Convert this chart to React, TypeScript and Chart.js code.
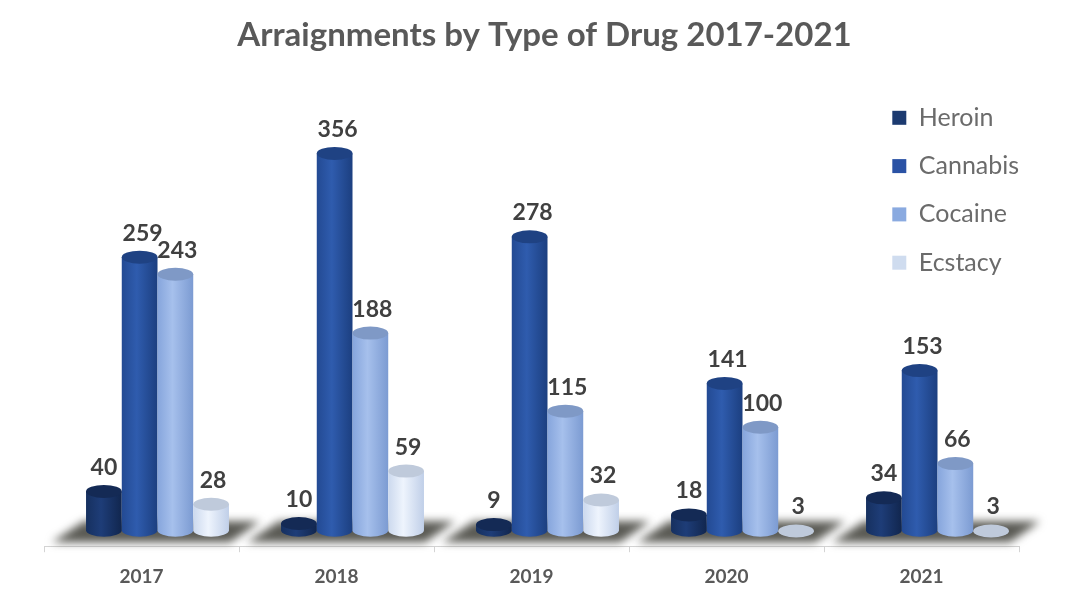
import React, { useEffect, useRef } from "react";
import { Chart, registerables } from "chart.js";

Chart.register(...registerables);

const years = ["2017", "2018", "2019", "2020", "2021"];
const heroin = [40, 10, 9, 18, 34];
const cannabis = [259, 356, 278, 141, 153];
const cocaine = [243, 188, 115, 100, 66];
const ecstasy = [28, 59, 32, 3, 3];

const seriesNames = ["Heroin", "Cannabis", "Cocaine", "Ecstacy"];
const swatchColors = ["#1c3a70", "#2a52a5", "#8aaae0", "#cfdcef"];
// Cylinder shading per series: edge, highlight, far edge, top cap.
const cylinderShades = [
  ["#16305f", "#1e3d78", "#11264e", "#142a55"],
  ["#234a93", "#2f5cae", "#1c3f80", "#1f4283"],
  ["#86a5dc", "#a6c0ec", "#7c9bd2", "#7f99c6"],
  ["#ccd9ee", "#eef4fd", "#c0cfe8", "#bfcadb"],
];

const FONT = "Lato, 'Open Sans', sans-serif";
const BAR_SHIFT = 16; // the bars sit to the right of their category, as in a 3D projection
const CAP_RY = 6.5;
const BASE_LIFT = 4; // the round foot of each cylinder stands slightly above the zero line
const LABEL_NUDGE = [0, 3, 2, 2]; // value labels lean slightly right of most bars

const floorShadow = {
  id: "floorShadow",
  beforeDatasetsDraw(chart: any) {
    const { ctx, scales } = chart;
    const x = scales.x;
    const step = x.width / years.length;
    ctx.save();
    ctx.filter = "blur(4px)";
    ctx.fillStyle = "#5a5a54";
    const top = x.top - 25;
    const bottom = x.top - 4;
    years.forEach((_, i) => {
      const left = x.getPixelForValue(i) - step / 2;
      ctx.beginPath();
      ctx.moveTo(left + 8, bottom);
      ctx.lineTo(left + 40, top);
      ctx.lineTo(left + 216, top);
      ctx.lineTo(left + 186, bottom);
      ctx.closePath();
      ctx.fill();
    });
    ctx.restore();
  },
};

// Paints each bar element as a cylinder, left to right within each group, so
// that each one overlaps its left-hand neighbour. The flat default rectangles
// are skipped.
const cylinders = {
  id: "cylinders",
  beforeDatasetDraw() {
    return false;
  },
  afterDatasetsDraw(chart: any) {
    const { ctx } = chart;
    ctx.save();
    ctx.translate(BAR_SHIFT, 0);
    cylinderShades.forEach(([edge, light, farEdge, cap], d) => {
      chart.getDatasetMeta(d).data.forEach((bar: any) => {
        const { x, y, base, width } = bar.getProps(["x", "y", "base", "width"], true);
        const rx = width / 2;
        const foot = base - BASE_LIFT;
        const gradient = ctx.createLinearGradient(x - rx, 0, x + rx, 0);
        gradient.addColorStop(0, edge);
        gradient.addColorStop(0.42, light);
        gradient.addColorStop(1, farEdge);
        ctx.fillStyle = gradient;
        ctx.beginPath();
        ctx.moveTo(x - rx, y);
        ctx.lineTo(x - rx, foot);
        ctx.ellipse(x, foot, rx, CAP_RY, 0, Math.PI, 0, true);
        ctx.lineTo(x + rx, y);
        ctx.closePath();
        ctx.fill();
        ctx.fillStyle = cap;
        ctx.beginPath();
        ctx.ellipse(x, y, rx, CAP_RY, 0, 0, Math.PI * 2);
        ctx.fill();
      });
    });
    ctx.restore();
  },
};

const valueLabels = {
  id: "valueLabels",
  afterDatasetsDraw(chart: any) {
    const { ctx } = chart;
    ctx.save();
    ctx.font = `bold 23px ${FONT}`;
    ctx.fillStyle = "#404040";
    ctx.textAlign = "center";
    ctx.textBaseline = "middle";
    chart.data.datasets.forEach((dataset: any, d: number) => {
      chart.getDatasetMeta(d).data.forEach((bar: any, i: number) => {
        ctx.fillText(String(dataset.data[i]), bar.x + BAR_SHIFT + LABEL_NUDGE[d], bar.y - 24);
      });
    });
    ctx.restore();
  },
};

// The legend overlays the plot, so it reserves no width; the title and legend
// boxes are then moved to their spots.
const placeBoxes = {
  id: "placeBoxes",
  beforeLayout(chart: any) {
    chart.legend.fit = function (this: any) {
      Object.getPrototypeOf(this).fit.call(this);
      this.width = 0;
    };
  },
  afterLayout(chart: any) {
    const title = chart.titleBlock;
    title.left += 13;
    title.right += 13;
    const legend = chart.legend;
    legend.left = 869;
    legend.right = 1040;
    legend.top = 82;
    legend.bottom = 300;
  },
};

export default function App() {
  const ref = useRef<HTMLCanvasElement>(null);

  useEffect(() => {
    const series = [heroin, cannabis, cocaine, ecstasy];
    const chart = new Chart(ref.current!, {
      type: "bar",
      data: {
        labels: years,
        datasets: series.map((data, i) => ({
          label: seriesNames[i],
          data,
          backgroundColor: swatchColors[i],
          clip: false as any,
          barPercentage: 1,
          categoryPercentage: 0.733,
        })),
      },
      options: {
        responsive: false,
        animation: false,
        layout: { padding: { left: 44, right: 59, top: 0, bottom: 2 } },
        plugins: {
          tooltip: { enabled: false },
          title: {
            display: true,
            text: "Arraignments by Type of Drug 2017-2021",
            color: "#595959",
            font: { family: FONT, size: 33, weight: "bold" },
            padding: { top: 16, bottom: 30.4 },
          },
          legend: {
            position: "right",
            align: "start",
            labels: {
              boxWidth: 14,
              boxHeight: 14,
              padding: 23.3,
              color: "#6b6b6b",
              font: { family: FONT, size: 25 },
            },
          },
        },
        scales: {
          x: {
            border: { color: "#d4d4d4" },
            grid: { display: true, drawOnChartArea: false, color: "#d4d4d4", tickLength: 6, offset: true },
            ticks: {
              color: "#595959",
              padding: 13,
              font: { family: FONT, size: 19, weight: "bold" },
            },
          },
          y: { display: false, min: -11.2, max: 419 },
        },
      },
      plugins: [placeBoxes, floorShadow, cylinders, valueLabels],
    });
    return () => chart.destroy();
  }, []);

  return (
    <div style={{ position: "fixed", left: 0, top: 0, background: "#fff" }}>
      <canvas ref={ref} width={1078} height={603} style={{ display: "block" }} />
    </div>
  );
}
